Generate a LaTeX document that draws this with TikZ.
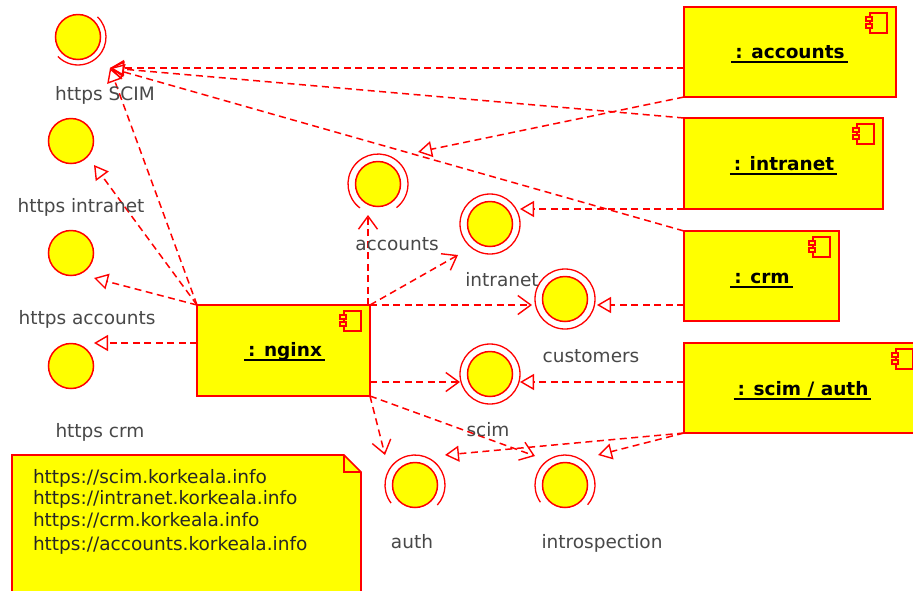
\documentclass[tikz,border=0pt]{standalone}
\usepackage{fontspec}
\setmainfont{DejaVu Sans}
\usetikzlibrary{arrows.meta}
\definecolor{umlred}{RGB}{255,0,0}
\definecolor{umlyellow}{RGB}{255,255,0}
\definecolor{labelgray}{RGB}{72,72,72}
% underlined instance name of a component
\newcommand\compname[1]{\setbox0=\hbox{#1}\rlap{\kern-4pt\vrule width\dimexpr\wd0+7pt\relax height -2.5pt depth 4.5pt}\box0}
\begin{document}
\begin{tikzpicture}[x=1pt,y=-1pt,
  every node/.style={inner sep=0pt, outer sep=0pt},
  comp/.style={draw=umlred, fill=umlyellow, line width=1.9pt, rectangle},
  complbl/.style={anchor=base, font=\fontsize{18.5}{22}\bfseries},
  iface/.style={draw=umlred, fill=umlyellow, line width=1.5pt, circle, minimum size=45pt},
  ring/.style={draw=umlred, line width=1.3pt},
  ifacelbl/.style={anchor=base, text=labelgray, font=\fontsize{18.5}{22}\selectfont},
  notetext/.style={anchor=base west, text=black!85, font=\fontsize{18.5}{22}\selectfont},
  conn/.style={draw=umlred, line width=1.5pt, dash pattern=on 7pt off 4.5pt},
  realize/.style={conn, -{Triangle[open, length=14pt, width=16pt, line width=1.4pt]}},
  depend/.style={conn, -{Straight Barb[length=13pt, width=19pt, line width=1.4pt]}},
  compicon/.pic={
    \draw[umlred, line width=1.4pt] (-17,0) rectangle (0,20);
    \draw[umlred, fill=umlyellow, line width=1.2pt] (-21,4) rectangle (-15,8);
    \draw[umlred, fill=umlyellow, line width=1.2pt] (-21,11) rectangle (-15,15);
  },
]
\useasboundingbox[fill=white] (0,0) rectangle (913,590);

% ---------- components ----------
\node[comp, minimum width=212pt, minimum height=90pt] (acc) at (790,52) {};
\node[comp, minimum width=199pt, minimum height=91pt] (intr) at (783.5,163.5) {};
\node[comp, minimum width=155pt, minimum height=90pt] (crm) at (761.5,276) {};
\node[comp, minimum width=238pt, minimum height=90pt] (sa) at (803,388) {};
\node[comp, minimum width=173pt, minimum height=91pt] (ngx) at (283.5,350.5) {};

\foreach \c in {acc,intr,crm,sa,ngx}
  \pic at ([xshift=-9pt,yshift=-6pt]\c.north east) {compicon};

\node[complbl] (accL) at (790,58) {\compname{: accounts}};
\node[complbl] (intrL) at (784,170) {\compname{: intranet}};
\node[complbl] (crmL) at (762,283) {\compname{: crm}};
\node[complbl] (saL) at (803,395) {\compname{: scim / auth}};
\node[complbl] (ngxL) at (285,356) {\compname{: nginx}};

% ---------- note ----------
\node[minimum width=349pt, minimum height=150pt, anchor=north west] (note) at (12,455) {};
\draw[draw=umlred, fill=umlyellow, line width=1.7pt]
  (note.north west) -- ([xshift=-17pt]note.north east) -- ([yshift=-17pt]note.north east)
  -- (note.south east) -- (note.south west) -- cycle;
\draw[umlred, line width=1.3pt]
  ([xshift=-17pt]note.north east) -- ([xshift=-17pt,yshift=-17pt]note.north east)
  -- ([yshift=-17pt]note.north east);
\node[notetext] (n1) at (33,483) {https://scim.korkeala.info};
\node[notetext] (n2) at (33,504) {https://intranet.korkeala.info};
\node[notetext] (n3) at (33,526) {https://crm.korkeala.info};
\node[notetext] (n4) at (33,550) {https://accounts.korkeala.info};

% ---------- arrow end points ----------
\coordinate (tScim) at (110,68);
\coordinate (tHIntr) at (94,165);
\coordinate (tHAcc) at (94,278);
\coordinate (tHCrm) at (94,343);
\coordinate (tAccR) at (418,152);
\coordinate (tIntrR) at (520,209);
\coordinate (tCustR) at (597,305);
\coordinate (tScimR) at (520,382);
\coordinate (tAuthR) at (445,455);
\coordinate (tIntroR) at (598,455);
\coordinate (dAcc) at (368,215);
\coordinate (dIntr) at (458,255);
\coordinate (dCust) at (532,305);
\coordinate (dScim) at (460,382);
\coordinate (dAuth) at (385,455);
\coordinate (dIntro) at (535,456);

% ---------- realizations ----------
\draw[realize] (acc.west |- tScim) -- (tScim);
\draw[realize] (intr.north west) -- (tScim);
\draw[realize] (crm.north west) -- (tScim);
\draw[realize] (ngx.north west) -- (tScim);
\draw[realize] (ngx.north west) -- (tHIntr);
\draw[realize] (ngx.north west) -- (tHAcc);
\draw[realize] (ngx.west |- tHCrm) -- (tHCrm);
\draw[realize] (acc.south west) -- (tAccR);
\draw[realize] (intr.south west) -- (tIntrR);
\draw[realize] (crm.west |- tCustR) -- (tCustR);
\draw[realize] (sa.west |- tScimR) -- (tScimR);
\draw[realize] (sa.south west) -- (tAuthR);
\draw[realize] (sa.south west) -- (tIntroR);

% ---------- dependencies ----------
\draw[depend] (dAcc |- ngx.north) -- (dAcc);
\draw[depend] (ngx.north east) -- (dIntr);
\draw[depend] (ngx.north east) -- (dCust);
\draw[depend] (ngx.east |- dScim) -- (dScim);
\draw[depend] (ngx.south east) -- (dAuth);
\draw[depend] (ngx.south east) -- (dIntro);

% ---------- interfaces ----------
\node[iface] (hScim) at (78,37) {};
\node[iface] (hIntr) at (71,141) {};
\node[iface] (hAcc) at (71,253) {};
\node[iface] (hCrm) at (71,366) {};
\node[iface] (iAcc) at (378,184) {};
\node[iface] (iIntr) at (490,224) {};
\node[iface] (iCust) at (565,299) {};
\node[iface] (iScim) at (490,374) {};
\node[iface] (iAuth) at (415,485) {};
\node[iface] (iIntro) at (565,485) {};

\draw[ring] (hScim) ++(-46:28) arc[start angle=-46, end angle=136, radius=28];
\draw[ring] (iAcc) ++(127:30) arc[start angle=127, end angle=412, radius=30];
\draw[ring] (iIntr) circle[radius=30];
\draw[ring] (iCust) circle[radius=30];
\draw[ring] (iScim) circle[radius=30];
\draw[ring] (iAuth) ++(143:30) arc[start angle=143, end angle=402, radius=30];
\draw[ring] (iIntro) ++(145:30) arc[start angle=145, end angle=401, radius=30];

\node[ifacelbl] (hScimL) at (105,100) {https SCIM};
\node[ifacelbl] (hIntrL) at (81,212) {https intranet};
\node[ifacelbl] (hAccL) at (87,324) {https accounts};
\node[ifacelbl] (hCrmL) at (100,437) {https crm};
\node[ifacelbl] (iAccL) at (397,250) {accounts};
\node[ifacelbl] (iIntrL) at (502,286) {intranet};
\node[ifacelbl] (iCustL) at (591,362) {customers};
\node[ifacelbl] (iScimL) at (488,436) {scim};
\node[ifacelbl] (iAuthL) at (412,548) {auth};
\node[ifacelbl] (iIntroL) at (602,548) {introspection};
\end{tikzpicture}
\end{document}
